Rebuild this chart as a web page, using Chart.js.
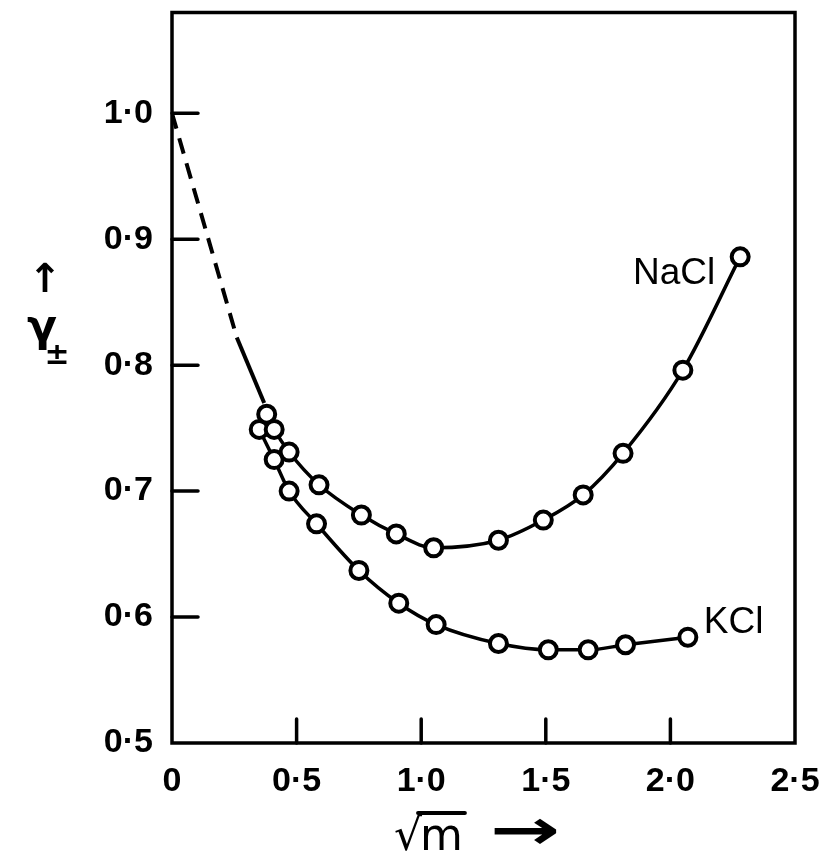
<!DOCTYPE html>
<html lang="en">
<head>
    <meta charset="UTF-8">
    <title>Activity coefficient of NaCl and KCl</title>
    <style>
        html, body { margin: 0; padding: 0; background: #fff; }
        #chartContainer { position: relative; width: 821px; height: 860px; }
    </style>
</head>
<body>
    <div id="chartContainer">
        <canvas id="gammaChart" width="821" height="860"></canvas>
    </div>

    <script src="https://cdn.jsdelivr.net/npm/chart.js"></script>
    <script>
        // Values (x = sqrt(m), y = mean activity coefficient)
        const naclX = [0.38, 0.41, 0.47, 0.59, 0.76, 0.90, 1.05, 1.31, 1.49, 1.65, 1.81, 2.05, 2.28];
        const naclY = [0.761, 0.749, 0.731, 0.705, 0.681, 0.666, 0.655, 0.661, 0.677, 0.697, 0.730, 0.796, 0.886];
        const kclX = [0.35, 0.41, 0.47, 0.58, 0.75, 0.91, 1.06, 1.31, 1.51, 1.67, 1.82, 2.07];
        const kclY = [0.749, 0.725, 0.700, 0.674, 0.637, 0.611, 0.594, 0.579, 0.574, 0.574, 0.578, 0.584];
        // limiting slope: dashed from 1.0, then solid into the first points
        const limitX = [0, 0.26, 0.37];
        const limitY = [1.0, 0.822, 0.770];

        const xTickVals = [0.5, 1.0, 1.5, 2.0];
        const yTickVals = [0.6, 0.7, 0.8, 0.9, 1.0];
        const seriesNames = ['NaCl', 'KCl'];

        const toPts = (xs, ys) => xs.map((x, i) => ({ x: x, y: ys[i] }));
        const fmt = v => v === 0 ? '0' : v.toFixed(1).replace('.', '\u00b7');

        // box, inward ticks, curve labels and axis titles
        const framePlugin = {
            id: 'frame',
            afterDraw(chart) {
                const ctx = chart.ctx;
                const a = chart.chartArea;
                const xs = chart.scales.x, ys = chart.scales.y;
                ctx.save();
                ctx.strokeStyle = '#000';
                ctx.fillStyle = '#000';
                ctx.lineWidth = 3.5;
                ctx.lineCap = 'round';
                ctx.strokeRect(a.left, a.top, a.right - a.left, a.bottom - a.top);

                ctx.beginPath();
                yTickVals.forEach(v => {
                    const py = ys.getPixelForValue(v);
                    ctx.moveTo(a.left, py);
                    ctx.lineTo(a.left + 26, py);
                });
                xTickVals.forEach(v => {
                    const px = xs.getPixelForValue(v);
                    ctx.moveTo(px, a.bottom);
                    ctx.lineTo(px, a.bottom - 24);
                });
                ctx.stroke();

                // curve labels next to the last points
                ctx.font = '37px "Liberation Sans"';
                ctx.textBaseline = 'middle';
                const n = naclX.length - 1, k = kclX.length - 1;
                ctx.textAlign = 'right';
                ctx.fillText(seriesNames[0], xs.getPixelForValue(naclX[n]) - 25, ys.getPixelForValue(naclY[n]) + 17);
                ctx.textAlign = 'left';
                ctx.fillText(seriesNames[1], xs.getPixelForValue(kclX[k]) + 16, ys.getPixelForValue(kclY[k]) - 14);

                // y title: arrow, gamma, plus-minus
                ctx.textAlign = 'center';
                ctx.font = 'bold 40px "DejaVu Sans"';
                ctx.fillText('\u2191', 45, 282);
                ctx.font = 'bold 44px "DejaVu Sans"';
                ctx.fillText('\u03b3', 42, 330);
                ctx.font = 'bold 30px "DejaVu Sans"';
                ctx.fillText('\u00b1', 57, 356);

                // x title: sqrt(m) and arrow
                ctx.textAlign = 'left';
                ctx.textBaseline = 'alphabetic';
                ctx.font = '44px "DejaVu Sans"';
                ctx.fillText('\u221a', 394, 850);
                const rw = ctx.measureText('\u221a').width;
                ctx.fillText('m', 394 + rw - 2, 850);
                const mw = ctx.measureText('m').width;
                ctx.lineWidth = 4;
                ctx.beginPath();
                ctx.moveTo(394 + rw - 4, 813);
                ctx.lineTo(394 + rw + mw, 813);
                ctx.stroke();
                ctx.font = 'bold 56px "DejaVu Sans"';
                ctx.textBaseline = 'middle';
                ctx.translate(490, 834);
                ctx.scale(1.5, 1);
                ctx.fillText('\u2192', 0, 0);
                ctx.restore();
            }
        };

        const pointStyle = {
            pointRadius: 8.5,
            pointHoverRadius: 8.5,
            pointBorderWidth: 4,
            pointBackgroundColor: '#fff',
            pointBorderColor: '#000'
        };

        const ctx = document.getElementById('gammaChart').getContext('2d');
        const chart = new Chart(ctx, {
            type: 'scatter',
            data: {
                datasets: [
                    Object.assign({
                        label: seriesNames[0],
                        data: toPts(naclX, naclY),
                        showLine: true,
                        borderColor: '#000',
                        borderWidth: 3.5,
                        cubicInterpolationMode: 'monotone'
                    }, pointStyle),
                    Object.assign({
                        label: seriesNames[1],
                        data: toPts(kclX, kclY),
                        showLine: true,
                        borderColor: '#000',
                        borderWidth: 3.5,
                        cubicInterpolationMode: 'monotone'
                    }, pointStyle),
                    {
                        label: 'limit',
                        data: toPts(limitX, limitY),
                        showLine: true,
                        borderColor: '#000',
                        borderWidth: 4,
                        pointRadius: 0,
                        segment: {
                            borderDash: c => c.p0DataIndex === 0 ? [16, 10] : []
                        }
                    }
                ]
            },
            options: {
                responsive: false,
                animation: false,
                events: [],
                layout: { padding: { top: 8, right: 26, left: 0, bottom: 0 } },
                plugins: {
                    legend: { display: false },
                    tooltip: { enabled: false }
                },
                scales: {
                    x: {
                        type: 'linear',
                        min: 0,
                        max: 2.5,
                        grid: { display: false, drawTicks: false },
                        border: { display: false },
                        afterFit: s => { s.height = 117; s.paddingLeft = 0; s.paddingRight = 0; },
                        ticks: {
                            stepSize: 0.5,
                            padding: 18,
                            color: '#000',
                            maxRotation: 0,
                            font: { family: 'Liberation Sans', size: 34, weight: 'bold' },
                            callback: v => fmt(v)
                        }
                    },
                    y: {
                        type: 'linear',
                        min: 0.5,
                        max: 1.08,
                        grid: { display: false, drawTicks: false },
                        border: { display: false },
                        afterFit: s => { s.width = 172; s.paddingTop = 0; s.paddingBottom = 0; },
                        ticks: {
                            stepSize: 0.1,
                            padding: 19,
                            color: '#000',
                            font: { family: 'Liberation Sans', size: 34, weight: 'bold' },
                            callback: v => Math.abs(v * 10 - Math.round(v * 10)) < 1e-6 ? fmt(v) : ''
                        }
                    }
                }
            },
            plugins: [framePlugin]
        });
    </script>
</body>
</html>
